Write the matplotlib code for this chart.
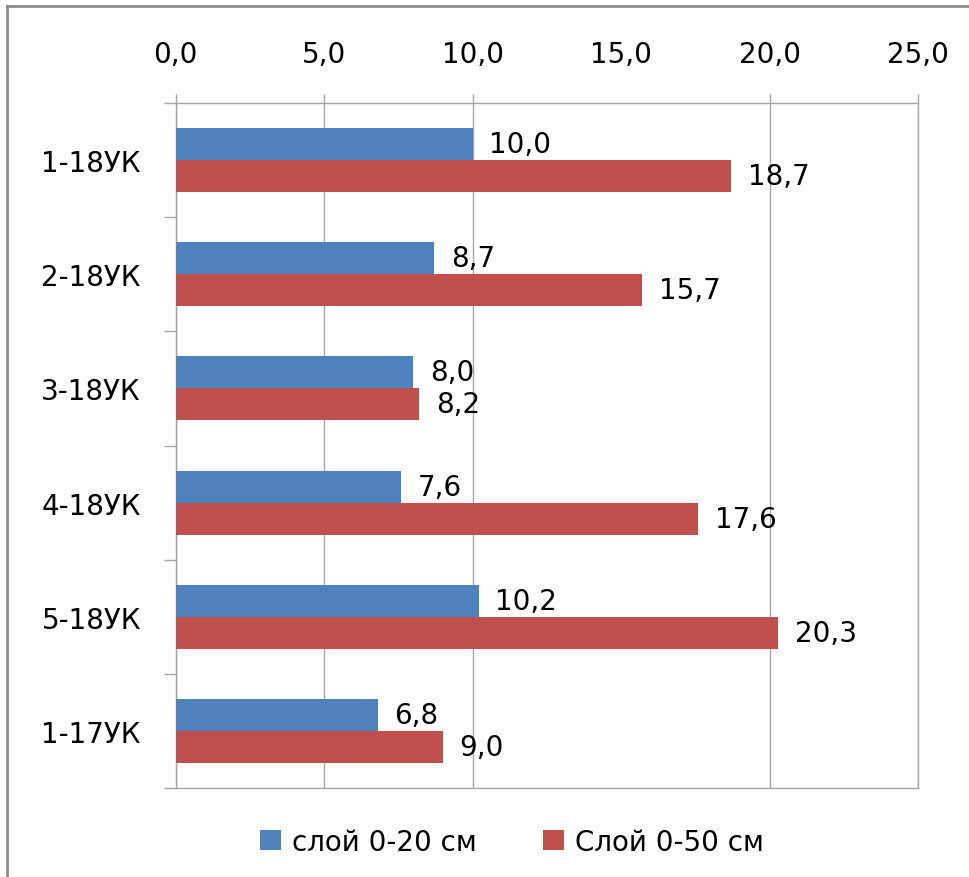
import matplotlib
matplotlib.use('Agg')
import matplotlib.pyplot as plt
from matplotlib.lines import Line2D
from matplotlib.ticker import FixedLocator, FuncFormatter

### Data

samples = ['1-18УК', '2-18УК', '3-18УК', '4-18УК', '5-18УК', '1-17УК']
layer_0_20 = [10.0, 8.7, 8.0, 7.6, 10.2, 6.8]
layer_0_50 = [18.7, 15.7, 8.2, 17.6, 20.3, 9.0]
series_names = ['слой 0-20 см', 'Слой 0-50 см']
x_ticks = [0, 5, 10, 15, 20, 25]

blue = '#4F81BD'
red = '#C0504D'
grid_gray = '#A6A6A6'

plt.rcParams['font.family'] = ['DejaVu Sans']

### Figure and axes

fig = plt.figure(figsize=(9.69, 8.78), dpi=100)
ax = fig.add_axes([175.7 / 969, 1 - 789 / 878, (918 - 175.7) / 969, (789 - 104) / 878])

# outer chart frame (top and left edges)
fig.add_artist(Line2D([7 / 969, 1], [1 - 7 / 878, 1 - 7 / 878],
                      transform=fig.transFigure, color='#8C8C8C', lw=2))
fig.add_artist(Line2D([7 / 969, 7 / 969], [0, 1 - 7 / 878],
                      transform=fig.transFigure, color='#8C8C8C', lw=2))

### Bars

pos = list(range(len(samples)))
h = 0.28
b1 = ax.barh([p - h / 2 for p in pos], layer_0_20, height=h, color=blue,
             label=series_names[0], zorder=3)
b2 = ax.barh([p + h / 2 for p in pos], layer_0_50, height=h, color=red,
             label=series_names[1], zorder=3)

comma = lambda v: f'{v:.1f}'.replace('.', ',')
for bars, vals in ((b1, layer_0_20), (b2, layer_0_50)):
    for rect, v in zip(bars, vals):
        ax.annotate(comma(v), (v, rect.get_y() + rect.get_height() / 2),
                    xytext=(12, 0), textcoords='offset points',
                    ha='left', va='center', fontsize=20, color='black', zorder=4)

### Axes styling

ax.set_xlim(0, 25)
ax.set_ylim(len(samples) - 0.5, -0.5)

ax.xaxis.tick_top()
ax.xaxis.set_major_locator(FixedLocator(x_ticks))
ax.xaxis.set_major_formatter(FuncFormatter(lambda v, _: comma(v)))
ax.tick_params(axis='x', which='major', direction='out', length=6.5, width=1,
               color=grid_gray, labelsize=20, pad=19)

ax.set_yticks(pos)
ax.set_yticklabels(samples)
ax.set_yticks([p - 0.5 for p in range(len(samples) + 1)], minor=True)
ax.tick_params(axis='y', which='major', length=0, labelsize=20, pad=25)
ax.tick_params(axis='y', which='minor', direction='out', length=9, width=1,
               color=grid_gray)

ax.xaxis.grid(True, color=grid_gray, lw=1, zorder=0)
# no gridline or tick mark at 15
ax.get_xgridlines()[3].set_visible(False)
ax.xaxis.get_major_ticks()[3].tick2line.set_visible(False)
ax.set_axisbelow(True)

for side in ax.spines:
    ax.spines[side].set_color(grid_gray)
    ax.spines[side].set_linewidth(1)

### Legend

fig.legend(handles=[b1, b2], labels=series_names, loc='center',
           bbox_to_anchor=(512 / 969, 1 - 843 / 878), ncol=2, frameon=False,
           fontsize=20, handlelength=0.75, handleheight=0.75,
           handletextpad=0.4, columnspacing=2.4)

fig.savefig('out.png', dpi=100)
plt.close(fig)
